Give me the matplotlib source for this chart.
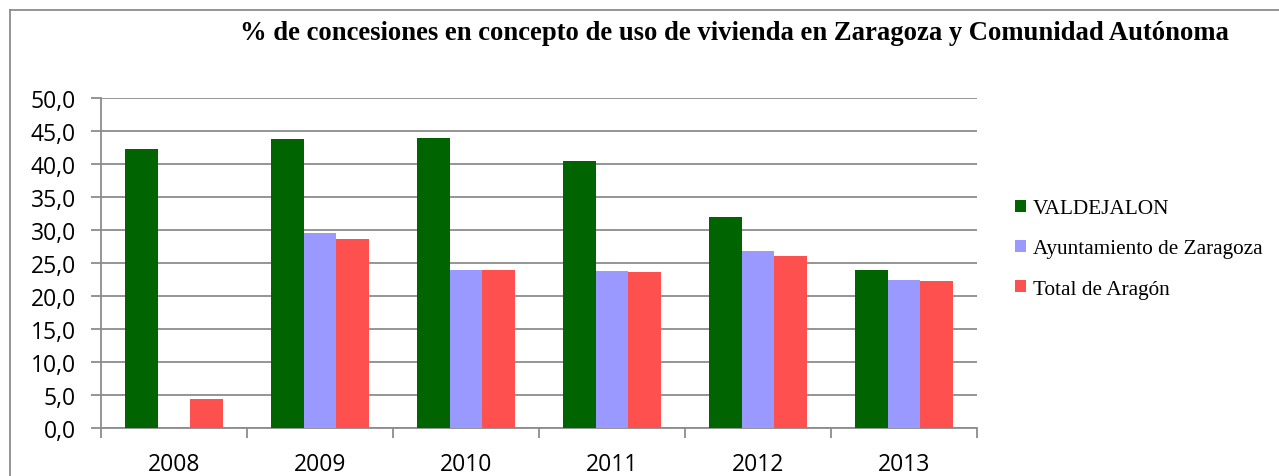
import numpy as np
import matplotlib
matplotlib.use('Agg')
import matplotlib.pyplot as plt
from matplotlib.lines import Line2D
from matplotlib.patches import Patch

# Data
years = ['2008', '2009', '2010', '2011', '2012', '2013']
valdejalon = [42.2, 43.8, 43.9, 40.4, 32.0, 23.9]
ayto_zaragoza = [0.0, 29.5, 23.9, 23.8, 26.8, 22.4]
total_aragon = [4.35, 28.7, 23.9, 23.6, 26.1, 22.2]
y_ticks = [0, 5, 10, 15, 20, 25, 30, 35, 40, 45, 50]

series = [
    ('VALDEJALON', valdejalon, '#006400'),
    ('Ayuntamiento de Zaragoza', ayto_zaragoza, '#9999FF'),
    ('Total de Aragón', total_aragon, '#FF5050'),
]

W, H = 1279, 477
fig = plt.figure(figsize=(W / 100, H / 100), dpi=100)
ax = fig.add_axes([101 / W, 1 - 429 / H, (977 - 101) / W, (429 - 99) / H])

grid_col = '#8c8c8c'
bar_w = 0.224
x = np.arange(len(years))
for i, (name, vals, col) in enumerate(series):
    ax.bar(x + (i - 1) * bar_w, vals, width=bar_w, color=col, zorder=3, label=name)

ax.set_xlim(-0.5, len(years) - 0.5)
ax.set_ylim(0, 50)
ax.set_yticks(y_ticks)
ax.set_yticklabels([f'{v:.1f}'.replace('.', ',') for v in y_ticks])
ax.yaxis.grid(True, color=grid_col, linewidth=1.3, zorder=0)

# category labels centred, ticks at the boundaries
ax.set_xticks(np.arange(-0.5, len(years), 1.0))
ax.set_xticklabels([])
ax.set_xticks(x, minor=True)
ax.set_xticklabels(years, minor=True)
ax.tick_params(axis='x', which='minor', length=0, pad=17)
ax.tick_params(axis='x', which='major', length=7, width=1.3, color=grid_col)
ax.tick_params(axis='y', length=7, width=1.3, color=grid_col, pad=11)

for lab in ax.get_xticklabels(minor=True) + ax.get_yticklabels():
    lab.set_fontfamily('Open Sans')
    lab.set_fontsize(16.5)
    lab.set_color('black')

for s in ['top', 'right']:
    ax.spines[s].set_visible(False)
for s in ['left', 'bottom']:
    ax.spines[s].set_color(grid_col)
    ax.spines[s].set_linewidth(1.3)

fig.text(734 / W, 1 - 33 / H,
         '% de concesiones en concepto de uso de vivienda en Zaragoza y Comunidad Autónoma',
         ha='center', va='center', fontsize=19.2, fontweight='bold',
         family='Liberation Serif')

handles = [Patch(facecolor=c, edgecolor='none') for _, _, c in series]
fig.legend(handles, [s[0] for s in series], loc='center left',
           bbox_to_anchor=(1015 / W, 1 - 250 / H), frameon=False,
           prop={'family': 'Liberation Serif', 'size': 15.3},
           handlelength=0.5, handleheight=0.5, handletextpad=0.35,
           labelspacing=1.0, borderpad=0, borderaxespad=0)

# chart area border (only top and left visible in the crop)
fig.add_artist(Line2D([10 / W, 10 / W], [0, 1 - 11 / H], transform=fig.transFigure,
                      color=grid_col, linewidth=1.3))
fig.add_artist(Line2D([10 / W, 1], [1 - 11 / H, 1 - 11 / H], transform=fig.transFigure,
                      color=grid_col, linewidth=1.3))

fig.savefig('out.png', dpi=100, facecolor='white')
plt.close(fig)
